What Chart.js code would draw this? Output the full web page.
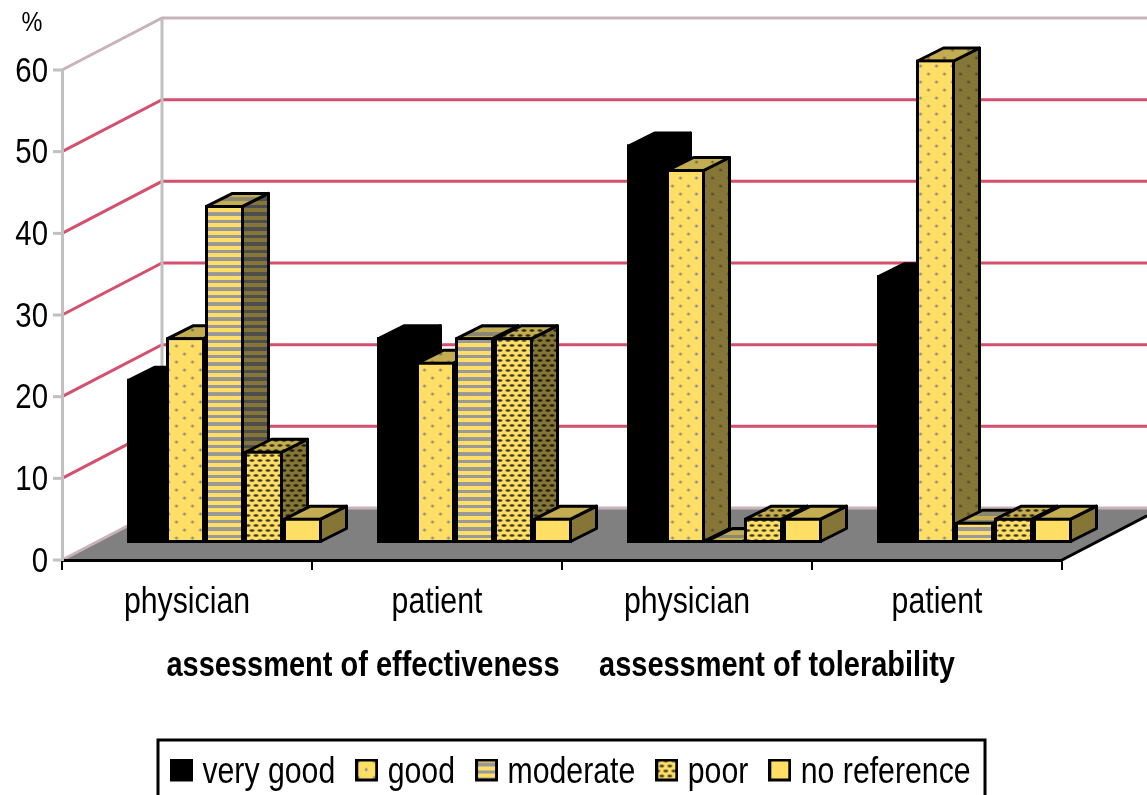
<!DOCTYPE html>
<html>
<head>
<meta charset="utf-8">
<style>html,body{margin:0;padding:0;background:#fff;overflow:hidden}canvas{display:block}</style>
<script src="https://cdn.jsdelivr.net/npm/chart.js@4"></script>
</head>
<body>
<canvas id="c" width="1147" height="795"></canvas>
<script>
const categories = ['physician', 'patient', 'physician', 'patient'];
const groupTitles = ['assessment of effectiveness', 'assessment of tolerability'];
const seriesNames = ['very good', 'good', 'moderate', 'poor', 'no reference'];
const veryGood = [20.1, 25.2, 48.8, 32.8];
const good = [25.2, 22.2, 45.8, 59.2];
const moderate = [41.4, 25.2, 0, 2.6];
const poor = [11.3, 25.2, 3.1, 3.1];
const noReference = [3.1, 3.1, 3.1, 3.1];
const seriesValues = [veryGood, good, moderate, poor, noReference];
const unitLabel = '%';

const SANS = '"Liberation Sans", Arial, sans-serif';
const TEXT_SQUEEZE = 0.84;
const DEPTH = {wallX: 100, wallY: 52, barShiftX: 37.5, barShiftY: 17, barX: 26, barY: 13};
const RED = '#d4506f', PALE = '#c9b3bb', WALL = '#c0c0c0', FLOOR = '#808080';
const FACE = {front: {base: '#ffde66', mark: '#8f8f80', ink: '#333322', stripe: '#999999'},
              top:   {base: '#c4ac50', mark: '#77704a', ink: '#2b2610', stripe: '#8a8670'},
              side:  {base: '#857537', mark: '#555030', ink: '#1c1a08', stripe: '#4d4d4d'}};

const ctx0 = document.getElementById('c').getContext('2d');
// The reference uses a condensed face: narrow all text horizontally about its anchor.
const rawFill = ctx0.fillText.bind(ctx0), rawMeasure = ctx0.measureText.bind(ctx0);
ctx0.fillText = function (s, x, y) {
  ctx0.save(); ctx0.translate(x, y); ctx0.scale(TEXT_SQUEEZE, 1);
  rawFill(s, 0, 0);
  ctx0.restore();
};
ctx0.measureText = function (s) {
  const m = rawMeasure(s);
  return {width: m.width * TEXT_SQUEEZE, actualBoundingBoxAscent: m.actualBoundingBoxAscent, actualBoundingBoxDescent: m.actualBoundingBoxDescent};
};

function tile(w, h, paint) {
  const t = document.createElement('canvas'); t.width = w; t.height = h;
  paint(t.getContext('2d'));
  return t;
}
const painters = [
  f => null,
  f => tile(16, 16, g => {
    g.fillStyle = f.base; g.fillRect(0, 0, 16, 16);
    g.fillStyle = f.mark;
    [[3, 3], [11, 11]].forEach(p => { g.beginPath(); g.arc(p[0], p[1], 1.5, 0, 7); g.fill(); });
  }),
  f => tile(4, 15, g => {
    g.fillStyle = f.base; g.fillRect(0, 0, 4, 15);
    g.fillStyle = f.stripe; g.fillRect(0, 4, 4, 4); g.fillRect(0, 12, 4, 3);
  }),
  f => tile(8, 10, g => {
    g.fillStyle = f.base; g.fillRect(0, 0, 8, 10);
    g.fillStyle = f.ink;
    [[2.5, 2.5], [6.5, 7.5]].forEach(p => { g.beginPath(); g.ellipse(p[0], p[1], 2.4, 1.2, 0, 0, 7); g.fill(); });
    g.beginPath(); g.ellipse(-1.5, 7.5, 2.4, 1.2, 0, 0, 7); g.fill();
  }),
  f => null
];
function fill(i, face) {
  if (i === 0) return '#000000';
  const t = painters[i](FACE[face]);
  return t ? ctx0.createPattern(t, 'repeat') : FACE[face].base;
}
function legendIcon(i) {
  // Extra transparent rows below lift the square to the reference's height beside the text.
  return tile(23, 29, g => {
    const t = painters[i](FACE.front);
    g.fillStyle = i === 0 ? '#000' : (t ? g.createPattern(t, 'repeat') : FACE.front.base);
    g.fillRect(1.5, 1.5, 20, 20);
    g.strokeStyle = '#000'; g.lineWidth = 3; g.strokeRect(1.5, 1.5, 20, 20);
  });
}
const icons = seriesNames.map((_, i) => legendIcon(i));
const LEGEND_FONT = 36, LEGEND_PAD = 28.5;

const scene = {
  id: 'scene',
  beforeDraw(chart) {
    const {ctx, width, scales: {x, y}} = chart;
    ctx.save();
    ctx.fillStyle = '#fff'; ctx.fillRect(0, 0, width, chart.height);
    const L = x.left, R = x.right, y0 = y.getPixelForValue(0);
    const d = DEPTH;
    ctx.fillStyle = FLOOR;
    ctx.beginPath();
    ctx.moveTo(L, y0); ctx.lineTo(L + d.wallX, y0 - d.wallY); ctx.lineTo(width, y0 - d.wallY);
    ctx.lineTo(width, y0 - (width - R) * d.wallY / d.wallX); ctx.lineTo(R, y0); ctx.closePath(); ctx.fill();
    ctx.lineWidth = 3;
    y.ticks.forEach(t => {
      const py = y.getPixelForValue(t.value);
      ctx.strokeStyle = (t.value === 0 || t.value === y.max) ? PALE : RED;
      ctx.beginPath();
      ctx.moveTo(L, py); ctx.lineTo(L + d.wallX, py - d.wallY); ctx.lineTo(width, py - d.wallY);
      ctx.stroke();
      ctx.strokeStyle = WALL;
      ctx.beginPath(); ctx.moveTo(L - 9, py); ctx.lineTo(L, py); ctx.stroke();
    });
    ctx.strokeStyle = WALL;
    ctx.beginPath();
    ctx.moveTo(L + d.wallX, y.getPixelForValue(y.max) - d.wallY);
    ctx.lineTo(L + d.wallX, y0 - d.wallY); ctx.stroke();
    ctx.strokeStyle = '#000';
    ctx.beginPath(); ctx.moveTo(R, y0); ctx.lineTo(width, y0 - (width - R) * d.wallY / d.wallX); ctx.stroke();
    ctx.restore();
  },
  beforeDatasetsDraw(chart) {
    const {ctx} = chart, d = DEPTH;
    ctx.save();
    ctx.translate(d.barShiftX, -d.barShiftY);
    ctx.save();
    ctx.lineWidth = 3; ctx.lineJoin = 'round'; ctx.strokeStyle = '#000';
    seriesNames.forEach((_, i) => {
      chart.getDatasetMeta(i).data.forEach(bar => {
        const p = bar.getProps(['x', 'y', 'base', 'width'], true);
        const l = p.x - p.width / 2 + 1.5, r = p.x + p.width / 2 - 1.5, t = p.y + 1.5, b = p.base - 1.5;
        const top = Math.min(t, b);
        if (i === 0) { ctx.fillStyle = '#000'; ctx.fillRect(l - 1.5, top - 1.5, r - l + 3, b - top + 3); }
        ctx.fillStyle = fill(i, 'side');
        ctx.beginPath();
        ctx.moveTo(r, top); ctx.lineTo(r + d.barX, top - d.barY); ctx.lineTo(r + d.barX, b - d.barY); ctx.lineTo(r, b);
        ctx.closePath(); ctx.fill(); ctx.stroke();
        ctx.fillStyle = fill(i, 'top');
        ctx.beginPath();
        ctx.moveTo(l, top); ctx.lineTo(l + d.barX, top - d.barY); ctx.lineTo(r + d.barX, top - d.barY); ctx.lineTo(r, top);
        ctx.closePath(); ctx.fill(); ctx.stroke();
      });
    });
    ctx.restore();
  },
  afterDatasetsDraw(chart) { chart.ctx.restore(); },
  afterLayout(chart) {
    const lg = chart.legend;
    const dy = 773 - (lg.top + LEGEND_PAD + LEGEND_FONT / 2);
    lg.top += dy; lg.bottom += dy;
    lg.left += 43.5; lg.right += 43.5;
  },
  afterDraw(chart) {
    const {ctx} = chart;
    ctx.save();
    ctx.fillStyle = '#000'; ctx.textBaseline = 'alphabetic';
    ctx.textAlign = 'center';
    ctx.font = '28px ' + SANS;
    ctx.fillText(unitLabel, 32, 31);
    ctx.font = 'bold 34.5px ' + SANS;
    ctx.fillText(groupTitles[0], 363, 676);
    ctx.fillText(groupTitles[1], 777, 676);
    ctx.strokeStyle = '#000'; ctx.lineWidth = 3;
    ctx.strokeRect(158, 740, 827, 70);
    ctx.restore();
  }
};

new Chart(ctx0, {
  type: 'bar',
  data: {
    labels: categories,
    datasets: seriesNames.map((name, i) => ({
      label: name,
      data: seriesValues[i],
      backgroundColor: fill(i, 'front'),
      borderColor: '#000',
      borderWidth: 3,
      borderSkipped: false,
      categoryPercentage: 0.78,
      barPercentage: 1,
      clip: false
    }))
  },
  options: {
    responsive: false,
    animation: false,
    devicePixelRatio: 1,
    layout: {padding: {top: 70, right: 85, left: 0, bottom: 0}},
    scales: {
      x: {
        grid: {color: '#000', lineWidth: 2, drawOnChartArea: false, tickLength: 10},
        border: {color: '#000', width: 3},
        ticks: {color: '#000', font: {family: SANS, size: 36}, padding: 11, maxRotation: 0},
        afterFit(s) { s.height = 795 - (s.chart.legend ? s.chart.legend.height : 95) - 560; }
      },
      y: {
        min: 0, max: 60,
        grid: {display: false},
        border: {color: WALL, width: 3},
        ticks: {color: '#000', stepSize: 10, font: {family: SANS, size: 35}, padding: 6, labelOffset: 2},
        afterFit(s) { s.width = 62; }
      }
    },
    plugins: {
      tooltip: {enabled: false},
      title: {display: false},
      legend: {
        display: true,
        position: 'bottom',
        labels: {
          color: '#000',
          font: {family: SANS, size: LEGEND_FONT},
          padding: LEGEND_PAD,
          usePointStyle: true,
          pointStyleWidth: 6,
          generateLabels: () => seriesNames.map((name, i) => ({text: name, datasetIndex: i, pointStyle: icons[i], fillStyle: '#000', strokeStyle: '#000', lineWidth: 0, hidden: false}))
        }
      }
    }
  },
  plugins: [scene]
});
</script>
</body>
</html>
